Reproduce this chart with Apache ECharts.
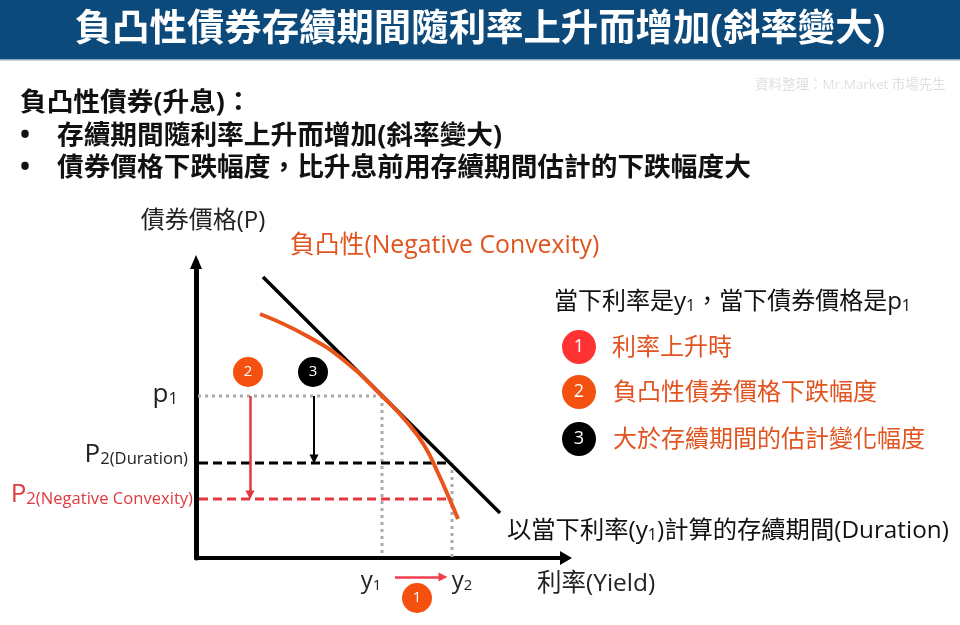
<!DOCTYPE html>
<html>
<head>
<meta charset="utf-8">
<title>負凸性債券</title>
<script src="https://cdn.jsdelivr.net/npm/echarts@6/dist/echarts.min.js"></script>
<style>
  html, body { margin: 0; padding: 0; background: #fff; }
  #main { width: 960px; height: 625px; }
</style>
</head>
<body>
<div id="main"></div>
<script>
const xMax = 370;
const yMax = 296;
const y1 = 186;
const y2 = 256;
const p1 = 162;
const p2Duration = 95;
const p2Convexity = 59;

const curveX = [64, 111, 150, 186, 210, 228, 242, 254, 262];
const curveY = [244, 222, 196, 162, 137, 113, 85, 58, 39];
const tangentX = [67, 304];
const tangentY = [281, 45];

const xTickValues = [y1, y2];
const xTickLabels = [['y', '1'], ['y', '2']];
const yTickValues = [p1, p2Duration, p2Convexity];
const yTickLabels = [['p', '1'], ['P', '2(Duration)'], ['P', '2(Negative Convexity)']];

const badgeValues = [[52, 186, '2'], [117, 186, '3'], [221, -40, '1']];
const arrowConvexityX = 54;
const arrowDurationX = 118;
const arrowYieldX = [199, 247];
const arrowYieldY = -19;

const headline = '負凸性債券存續期間隨利率上升而增加(斜率變大)';
const summaryLines = ['負凸性債券(升息)：', '存續期間隨利率上升而增加(斜率變大)', '債券價格下跌幅度，比升息前用存續期間估計的下跌幅度大'];
const legendLabels = ['利率上升時', '負凸性債券價格下跌幅度', '大於存續期間的估計變化幅度'];

const FONT = '"Open Sans", "Noto Sans CJK TC", sans-serif';
const ORANGE = '#E2541F';
const BADGE_ORANGE = '#F4500F';
const RED = '#E0393F';
const GREY = '#ABABAB';

function zip(xs, ys) {
  return xs.map((x, i) => [x, ys[i]]);
}

function plainLine(name, data, color, type) {
  return {
    name: name,
    type: 'line',
    data: data,
    showSymbol: false,
    silent: true,
    z: 2,
    lineStyle: { color: color, width: 3, type: type }
  };
}

function text(x, y, str, size, color, extra) {
  return {
    type: 'text',
    z: 10,
    style: Object.assign({
      x: x, y: y, text: str, fontFamily: FONT, fontSize: size, fill: color, verticalAlign: 'middle'
    }, extra || {})
  };
}

const subRich = (color, size, big) => ({
  m: { fontFamily: FONT, fontSize: big, fill: color, verticalAlign: 'bottom', lineHeight: 30 },
  s: { fontFamily: FONT, fontSize: size, fill: color, verticalAlign: 'bottom', lineHeight: 24 }
});

const tickRich = (color, size, big) => ({
  m: { fontFamily: FONT, fontSize: big, color: color, verticalAlign: 'bottom', lineHeight: 30 },
  s: { fontFamily: FONT, fontSize: size, color: color, verticalAlign: 'bottom', lineHeight: 24 }
});

const graphicItems = [
  { type: 'rect', z: 0, shape: { x: 0, y: 0, width: 960, height: 59 }, style: { fill: '#0D4A7C' } },
  { type: 'rect', z: 0, shape: { x: 0, y: 59, width: 960, height: 1.5 }, style: { fill: '#8FA9BF' } },
  text(755, 85, '資料整理：Mr.Market 市場先生', 13.5, '#E0E0E0'),
  text(20, 103, summaryLines[0], 26.7, '#111', { fontWeight: 'bold' }),
  text(20, 136, '•', 26.7, '#111', { fontWeight: 'bold' }),
  text(57, 136, summaryLines[1], 26.7, '#111', { fontWeight: 'bold' }),
  text(20, 168, '•', 26.7, '#111', { fontWeight: 'bold' }),
  text(57, 168, summaryLines[2], 26.7, '#111', { fontWeight: 'bold' }),
  text(290, 246, '負凸性(Negative Convexity)', 24.8, ORANGE),
  text(507, 528, '{m|以當下利率(y}{s|1}{m|)計算的存續期間(Duration)}', 24.3, '#111', { rich: subRich('#111', 16, 24.3) }),
  text(554, 299, '{m|當下利率是y}{s|1}{m|，當下債券價格是p}{s|1}', 24, '#111', { rich: subRich('#111', 16, 24) })
];

[['#FF3333', 347, 612], [BADGE_ORANGE, 392, 613], ['#000000', 439, 613]].forEach((row, i) => {
  graphicItems.push({
    type: 'circle', z: 9, shape: { cx: 579, cy: row[1], r: 17 }, style: { fill: row[0] }
  });
  graphicItems.push(text(579, row[1], String(i + 1), 18, '#fff', { align: 'center' }));
  graphicItems.push(text(row[2], row[1] + 1, legendLabels[i], 24, ORANGE));
});

const yTickOffsets = [[-18, -3], [-8, -10], [-3, -6]];
const xTickOffsets = [[-11, 5], [10, 5]];

const chart = echarts.init(document.getElementById('main'));

chart.setOption({
  animation: false,
  backgroundColor: '#fff',
  title: {
    text: headline,
    left: 'center',
    top: 7,
    textStyle: { color: '#fff', fontFamily: FONT, fontWeight: 'bold', fontSize: 37.4 }
  },
  grid: { left: 196, top: 262, width: xMax, height: yMax },
  xAxis: {
    type: 'value',
    min: 0,
    max: xMax,
    name: '利率(Yield)',
    nameLocation: 'end',
    nameGap: -29,
    nameTextStyle: { fontFamily: FONT, fontSize: 24.5, color: '#222', verticalAlign: 'top', padding: [14, 0, 0, 0] },
    splitLine: { show: false },
    axisTick: { show: false },
    axisLabel: { show: false },
    axisLine: { onZero: false, symbol: ['none', 'triangle'], symbolSize: [14, 12], lineStyle: { color: '#000', width: 4 } }
  },
  yAxis: {
    type: 'value',
    min: 0,
    max: yMax,
    name: '債券價格(P)',
    nameLocation: 'end',
    nameGap: 29,
    nameTextStyle: { fontFamily: FONT, fontSize: 24, color: '#222', padding: [0, 0, 0, 14] },
    splitLine: { show: false },
    axisTick: { show: false },
    axisLabel: { show: false },
    axisLine: { onZero: false, symbol: ['none', 'triangle'], symbolSize: [12, 14], lineStyle: { color: '#000', width: 5 } }
  },
  graphic: graphicItems,
  series: [
    plainLine('p1', [[2, p1], [y1, p1]], GREY, [3, 4]),
    plainLine('y1', [[y1, p1], [y1, 1]], GREY, [3, 4]),
    plainLine('y2', [[y2, p2Duration], [y2, 1]], GREY, [3, 4]),
    plainLine('P2 Duration', [[3, p2Duration], [252, p2Duration]], '#000', [9, 5]),
    plainLine('P2 Convexity', [[3, p2Convexity], [251, p2Convexity]], RED, [9, 5]),
    {
      name: 'Duration',
      type: 'line',
      data: zip(tangentX, tangentY),
      showSymbol: false,
      silent: true,
      z: 3,
      lineStyle: { color: '#000', width: 3.5 }
    },
    {
      name: 'Negative Convexity',
      type: 'line',
      data: zip(curveX, curveY),
      smooth: 0.5,
      showSymbol: false,
      silent: true,
      z: 4,
      lineStyle: { color: '#E8541A', width: 4 }
    },
    {
      name: 'arrows',
      type: 'lines',
      coordinateSystem: 'cartesian2d',
      clip: false,
      silent: true,
      z: 5,
      symbol: ['none', 'triangle'],
      symbolSize: 9,
      data: [
        { coords: [[arrowConvexityX, p1], [arrowConvexityX, p2Convexity + 4]], lineStyle: { color: RED, width: 2.5, opacity: 1 } },
        { coords: [[arrowDurationX, p1], [arrowDurationX, p2Duration + 4]], lineStyle: { color: '#000', width: 2, opacity: 1 } },
        { coords: [[arrowYieldX[0], arrowYieldY], [arrowYieldX[1], arrowYieldY]], lineStyle: { color: '#EF3E4E', width: 2.5, opacity: 1 } }
      ]
    },
    {
      name: 'badges',
      type: 'scatter',
      clip: false,
      silent: true,
      z: 6,
      symbolSize: 30,
      data: badgeValues.map(b => ({
        value: [b[0], b[1]],
        itemStyle: { color: b[2] === '3' ? '#000' : BADGE_ORANGE, opacity: 1 },
        label: { show: true, formatter: b[2], color: '#fff', fontFamily: FONT, fontSize: 15 }
      }))
    },
    {
      name: 'y ticks',
      type: 'scatter',
      clip: false,
      silent: true,
      symbolSize: 0,
      itemStyle: { opacity: 1 },
      data: yTickValues.map((v, i) => ({
        value: [0, v],
        label: {
          show: true,
          position: 'left',
          distance: 0,
          offset: yTickOffsets[i],
          formatter: '{m|' + yTickLabels[i][0] + '}{s|' + yTickLabels[i][1] + '}',
          rich: tickRich(v === p2Convexity ? RED : '#222', 16.6, 26)
        }
      }))
    },
    {
      name: 'x ticks',
      type: 'scatter',
      clip: false,
      silent: true,
      symbolSize: 0,
      itemStyle: { opacity: 1 },
      data: xTickValues.map((v, i) => ({
        value: [v, 0],
        label: {
          show: true,
          position: 'bottom',
          distance: 0,
          offset: xTickOffsets[i],
          formatter: '{m|' + xTickLabels[i][0] + '}{s|' + xTickLabels[i][1] + '}',
          rich: tickRich('#222', 15, 24)
        }
      }))
    }
  ]
});
</script>
</body>
</html>
